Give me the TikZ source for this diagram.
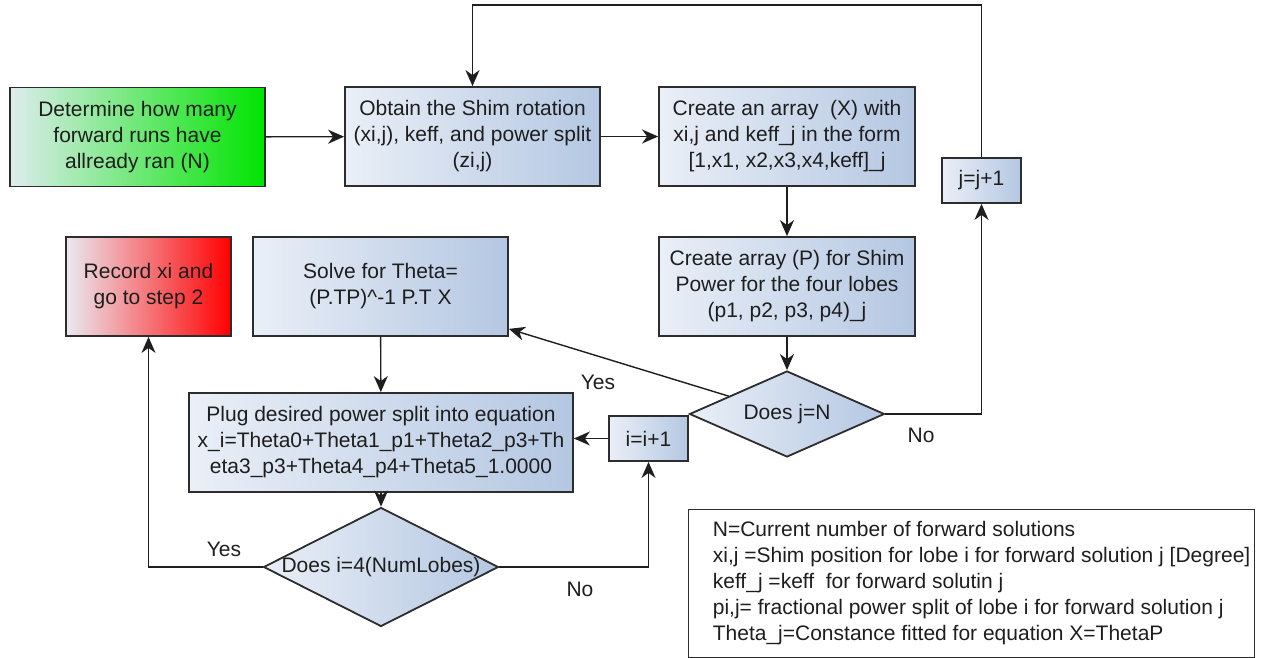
\documentclass[tikz,border=0pt]{standalone}
\usepackage{fontspec}
\setmainfont{Liberation Sans}
\usetikzlibrary{shapes.geometric,arrows.meta}
\definecolor{boxL}{RGB}{234,239,247}
\definecolor{boxR}{RGB}{180,199,226}
\definecolor{greenL}{RGB}{222,236,238}
\definecolor{greenR}{RGB}{0,228,0}
\definecolor{redL}{RGB}{234,234,242}
\definecolor{redR}{RGB}{255,0,0}
\definecolor{frame}{RGB}{45,45,45}
\definecolor{ink}{RGB}{30,30,30}
\begin{document}
\begin{tikzpicture}[x=.5pt, y=-.5pt, >={Stealth[length=8pt,width=7pt,inset=2.5pt]},
	every node/.style={font=\fontsize{10.5}{13}\selectfont, text=ink},
	stepbox/.style={draw=frame, line width=.9pt, left color=boxL, right color=boxR, align=center, inner sep=2pt, minimum height=49.5pt},
	decision/.style={diamond, draw=frame, line width=.9pt, left color=boxL, right color=boxR, inner sep=0pt},
	flow/.style={->, line width=.7pt, draw=ink}]
	\useasboundingbox (0,0) rectangle (1263,658);
	% boxes
	\node[stepbox, left color=greenL, right color=greenR, minimum width=127.5pt] (start) at (137.5,137) {Determine how many\\forward runs have\\allready ran (N)};
	\node[stepbox, minimum width=127.5pt] (obtain) at (472.5,136.5) {Obtain the Shim rotation\\(xi,j), keff, and power split\\(zi,j)};
	\node[stepbox, minimum width=128pt] (arrX) at (787,136.5) {Create an array\ \ (X) with\\xi,j and keff\_j in the form\\{}[1,x1, x2,x3,x4,keff]\_j};
	\node[stepbox, minimum width=128pt] (arrP) at (787,286.5) {Create array (P) for Shim\\Power for the four lobes\\(p1, p2, p3, p4)\_j};
	\node[stepbox, left color=redL, right color=redR, minimum width=82.5pt] (record) at (148.5,286.5) {Record xi and\\go to step 2};
	\node[stepbox, minimum width=127.5pt] (solve) at (380.5,286.5) {Solve for Theta=\\(P.TP)\textasciicircum{}-1 P.T X};
	\node[stepbox, minimum width=192pt] (plug) at (381,442.5) {Plug desired power split into equation\\x\_i=Theta0+Theta1\_p1+Theta2\_p3+Th\\eta3\_p3+Theta4\_p4+Theta5\_1.0000};
	\node[stepbox, minimum width=39.5pt, minimum height=22.5pt] (incj) at (981.5,180.5) {j=j+1};
	\node[stepbox, minimum width=39.5pt, minimum height=22.5pt] (inci) at (648.5,438.5) {i=i+1};
	\node[decision, minimum width=97.5pt, minimum height=43pt] (dj) at (787,414) {\makebox[0pt]{Does j=N}};
	\node[decision, minimum width=117.5pt, minimum height=59.5pt] (di) at (381,567) {\makebox[0pt]{Does i=4(NumLobes)}};
	% legend
	\node[draw=frame, line width=.6pt, anchor=north west, minimum width=283pt, minimum height=74pt, inner xsep=0pt] (legend) at (688,509) {\hspace{10pt}\begin{tabular}{@{}l@{}}
		N=Current number of forward solutions\\
		xi,j =Shim position for lobe i for forward solution j [Degree]\\
		keff\_j =keff\ \ for forward solutin j\\
		pi,j= fractional power split of lobe i for forward solution j\\
		Theta\_j=Constance fitted for equation X=ThetaP
	\end{tabular}};
	% labels
	\node (yesj) at (598,382) {Yes};
	\node (noj) at (921,435) {No};
	\node (yesi) at (224,549) {Yes};
	\node (noi) at (580,589) {No};
	% connectors
	\coordinate (loop) at (981.5,5);
	\draw[flow] (start) -- (obtain);
	\draw[flow] (obtain) -- (arrX);
	\draw[flow] (arrX) -- (arrP);
	\draw[flow] (arrP) -- (dj);
	\draw[flow] (dj.east) -| (incj.south);
	\draw[flow] (incj.north) -- (loop) -| (obtain.north);
	\draw[flow] (dj) -- ([yshift=4pt]solve.south east);
	\draw[flow] (solve) -- (plug);
	\draw[flow] (inci.west) -- (inci.west -| plug.east);
	\draw[flow] (plug) -- (di);
	\draw[flow] (di.west) -| (record.south);
	\draw[flow] (di.east) -| (inci.south);
\end{tikzpicture}
\end{document}
